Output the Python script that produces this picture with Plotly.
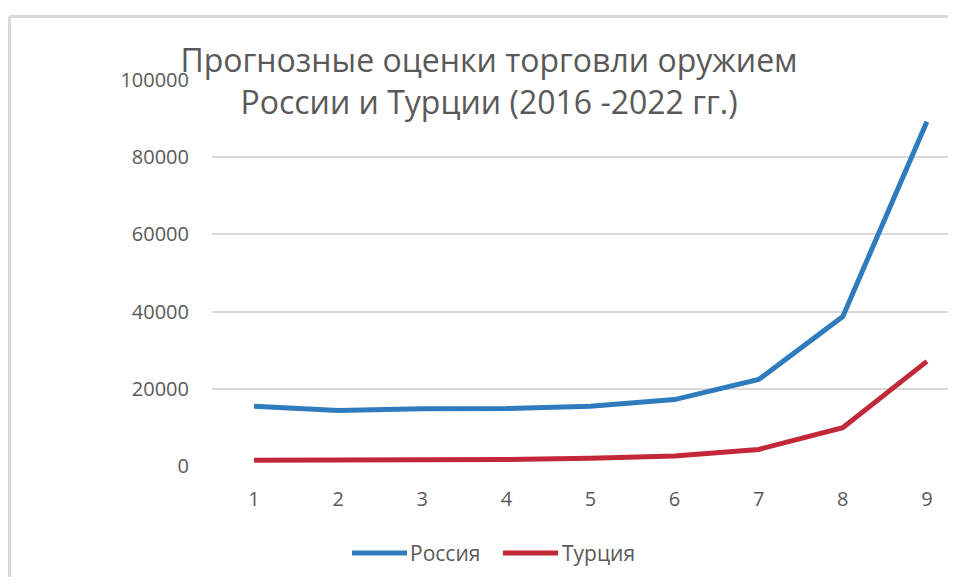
import plotly.graph_objects as go

categories = [1, 2, 3, 4, 5, 6, 7, 8, 9]
russia = [15500, 14400, 14800, 14900, 15500, 17200, 22400, 38700, 89200]
turkey = [1500, 1500, 1600, 1700, 2000, 2600, 4300, 9900, 27100]
y_ticks = [0, 20000, 40000, 60000, 80000, 100000]
series_names = ["Россия", "Турция"]
series_colors = ["#2E7BBE", "#C3283A"]

# page body has an 8px margin on every side: figure pixel = screen pixel - 8
OFF = 8
W, H = 956 - 2 * OFF, 585 - 2 * OFF
L, R, T = 212 - OFF, 0, 80 - OFF
B = H - (466 - OFF)
pw, ph = W - L - R, H - T - B

def px(sx):  # screen x -> paper x
    return (sx - 212) / pw

def py(sy):  # screen y -> paper y
    return (466 - sy) / ph

fig = go.Figure()
for name, vals, col in zip(series_names, [russia, turkey], series_colors):
    fig.add_trace(go.Scatter(x=categories, y=vals, mode="lines", name=name,
                             line=dict(color=col, width=5), showlegend=False))

font_fam = "Open Sans, DejaVu Sans, sans-serif"
fig.update_layout(
    width=W, height=H,
    margin=dict(l=L, r=R, t=T, b=B, pad=0),
    paper_bgcolor="white", plot_bgcolor="white",
    font=dict(family=font_fam, color="#595959", size=20),
    title=dict(text="Прогнозные оценки торговли оружием<br>России и Турции (2016 -2022 гг.)",
               x=(489 - OFF) / W, xanchor="center", xref="container",
               y=1 - 64 / H, yanchor="top", yref="container",
               font=dict(size=32, color="#595959", family=font_fam)),
    xaxis=dict(range=[0.5, 0.5 + pw / 84.1], tickvals=categories, ticktext=[str(c) for c in categories],
               showgrid=False, zeroline=False, showline=False, ticks="",
               ticklabelstandoff=19, tickfont=dict(size=20)),
    yaxis=dict(range=[0, 100000], tickvals=y_ticks, ticktext=[str(v) for v in y_ticks],
               showgrid=True, gridcolor="#D9D9D9", gridwidth=1.5, zeroline=False,
               showline=False, ticks="", ticklabelstandoff=22, tickfont=dict(size=20)),
    showlegend=False,
)

# chart-area border (left and top edges visible; right/bottom lie outside the view)
fig.add_shape(type="line", xref="paper", yref="paper",
              x0=px(9.5), x1=px(9.5), y0=-0.6, y1=py(16.5),
              line=dict(color="#D9D9D9", width=3), layer="below")
fig.add_shape(type="line", xref="paper", yref="paper",
              x0=px(9.5), x1=1.0, y0=py(16.5), y1=py(16.5),
              line=dict(color="#D9D9D9", width=3), layer="below")

# legend (line sample + label)
legend_pos = [(352, 407, 409), (503, 558, 561)]
for (x0, x1, tx), name, col in zip(legend_pos, series_names, series_colors):
    fig.add_shape(type="line", xref="paper", yref="paper",
                  x0=px(x0), x1=px(x1), y0=py(553), y1=py(553),
                  line=dict(color=col, width=5))
    fig.add_annotation(xref="paper", yref="paper", x=px(tx), y=py(553),
                       xanchor="left", yanchor="middle", text=name, showarrow=False,
                       font=dict(size=21, color="#595959", family=font_fam), borderpad=0)

fig.write_html("out.html")
